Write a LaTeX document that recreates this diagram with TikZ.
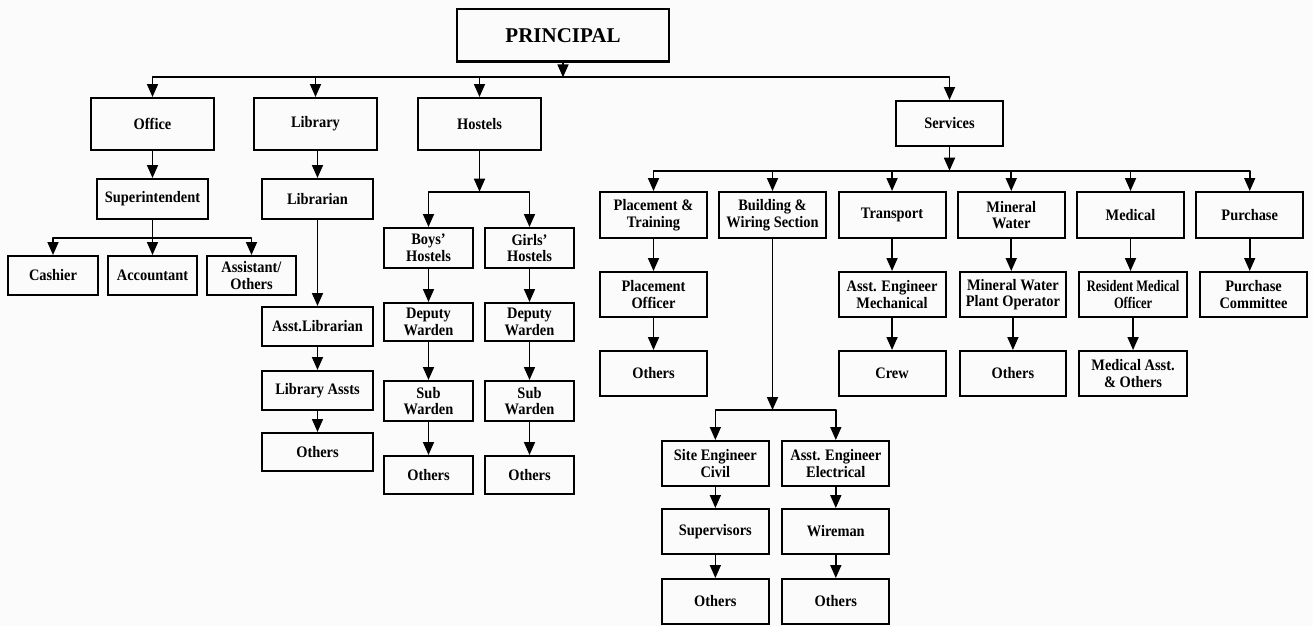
\documentclass[tikz,border=0pt]{standalone}
\usepackage{fontspec}
\setmainfont{Liberation Serif}[FakeStretch=0.9]
\newfontfamily\pfont{Liberation Serif}
\newfontfamily\nfont{Liberation Serif}[FakeStretch=0.78]
\usetikzlibrary{arrows.meta}
\definecolor{bg}{RGB}{251,251,251}
\tikzset{
  box/.style={draw, line width=2pt, inner sep=0pt, align=center,
    font=\bfseries\fontsize{16}{16.5}\selectfont},
  arr/.style={line width=1.7pt, -{Triangle[length=13pt,width=11pt]}},
  ln/.style={line width=1.7pt},
}
\newcommand{\bx}[6]{\node[box, minimum width={(#4)-(#2)}, minimum height={(#5)-(#3)}] (#1) at ({((#2)+(#4))/2},{((#3)+(#5))/2}) {#6};}
\begin{document}
\begin{tikzpicture}[x=1pt,y=-1pt]
\fill[bg] (0,0) rectangle (1313,626);
\useasboundingbox (0,0) rectangle (1313,626);
% top level
\node[box, minimum width=212, minimum height=52, font=\pfont\bfseries\fontsize{21}{24}\selectfont] (principal) at (563,35.5) {PRINCIPAL};
\bx{office}{91}{98}{214}{150}{Office}
\bx{library}{254}{98}{377}{150}{Library}
\bx{hostels}{418}{98}{541}{150}{Hostels}
\bx{services}{896}{101}{1003}{146}{Services}
% office
\bx{superintendent}{97}{179}{208}{219}{Superintendent}
\bx{cashier}{8}{256}{98}{295}{Cashier}
\bx{accountant}{108}{256}{197}{295}{Accountant}
\bx{assistant}{207}{256}{296}{295}{Assistant/\\Others}
% library
\bx{librarian}{262}{179}{373}{219}{Librarian}
\bx{asstlib}{262}{307}{373}{346}{Asst.Librarian}
\bx{libassts}{262}{371}{373}{410}{Library Assts}
\bx{libothers}{262}{433}{373}{471}{Others}
% hostels
\bx{boys}{384}{228}{473}{268}{Boys’\\Hostels}
\bx{girls}{485}{228}{574}{268}{Girls’\\Hostels}
\bx{depb}{384}{303}{473}{341}{Deputy\\Warden}
\bx{depg}{485}{303}{574}{341}{Deputy\\Warden}
\bx{subb}{384}{381}{473}{421}{Sub\\Warden}
\bx{subg}{485}{381}{574}{421}{Sub\\Warden}
\bx{othb}{384}{456}{473}{494}{Others}
\bx{othg}{485}{456}{574}{494}{Others}
% services row 1
\bx{placement}{600}{192}{707}{238}{Placement \&\\Training}
\bx{building}{719}{192}{826}{238}{Building \&\\Wiring Section}
\bx{transport}{838.5}{192}{945.6}{238}{Transport}
\bx{mineral}{957.7}{192}{1064.8}{238}{Mineral\\Water}
\bx{medical}{1077}{192}{1184}{238}{Medical}
\bx{purchase}{1196.2}{192}{1303.2}{238}{Purchase}
% services row 2
\bx{placeoff}{600}{272}{707}{317}{Placement\\Officer}
\bx{aemech}{838.5}{272}{945.6}{317}{Asst. Engineer\\Mechanical}
\bx{mwpo}{959.6}{272}{1066.2}{317}{Mineral Water\\Plant Operator}
\bx{rmo}{1079.3}{272}{1186.8}{317}{\nfont\bfseries Resident Medical\\\nfont\bfseries Officer}
\bx{pcomm}{1200}{272}{1307}{317}{Purchase\\Committee}
% services row 3
\bx{othp}{600}{351}{707}{396}{Others}
\bx{crew}{838.5}{351}{945.6}{396}{Crew}
\bx{othm}{959.6}{351}{1066.2}{396}{Others}
\bx{medasst}{1079.3}{351}{1186.8}{396}{Medical Asst.\\\& Others}
% building sub
\bx{site}{661.7}{441}{769}{486}{Site Engineer\\Civil}
\bx{aeelec}{782.3}{441}{889.3}{486}{Asst. Engineer\\Electrical}
\bx{superv}{661.7}{509}{769}{554}{Supervisors}
\bx{wireman}{782.3}{509}{889.3}{554}{Wireman}
\bx{oths}{661.7}{579}{769}{624}{Others}
\bx{othw}{782.3}{579}{889.3}{624}{Others}
% bus levels
\coordinate (b0) at (0,77.3);
\coordinate (b1) at (0,237.7);
\coordinate (b2) at (0,191.7);
\coordinate (b3) at (0,170.7);
\coordinate (b4) at (0,410);
% principal
\draw[arr] (principal.south) -- (principal.south |- b0);
\draw[ln, line join=round] (office.north) ++(0,-10) |- (services.north |- b0) -- ++(0,10);
\foreach \n in {office,library,hostels,services}{\draw[arr] (\n.north |- b0) -- (\n.north);}
% office
\draw[arr] (superintendent.north |- office.south) -- (superintendent.north);
\draw[arr] (superintendent.south) -- (accountant.north);
\draw[ln, line join=round] (cashier.north) ++(0,-10) |- (assistant.north |- b1) -- ++(0,10);
\draw[arr] (cashier.north |- b1) -- (cashier.north);
\draw[arr] (assistant.north |- b1) -- (assistant.north);
% library
\draw[arr] (librarian.north |- library.south) -- (librarian.north);
\draw[arr] (librarian.south) -- (asstlib.north);
\draw[arr] (asstlib.south) -- (libassts.north);
\draw[arr] (libassts.south) -- (libothers.north);
% hostels
\draw[arr] (hostels.south) -- (hostels.south |- b2);
\draw[ln, line join=round] (boys.north) ++(0,-10) |- (girls.north |- b2) -- ++(0,10);
\draw[arr] (boys.north |- b2) -- (boys.north);
\draw[arr] (girls.north |- b2) -- (girls.north);
\draw[arr] (boys.south) -- (depb.north);
\draw[arr] (girls.south) -- (depg.north);
\draw[arr] (depb.south) -- (subb.north);
\draw[arr] (depg.south) -- (subg.north);
\draw[arr] (subb.south) -- (othb.north);
\draw[arr] (subg.south) -- (othg.north);
% services
\draw[arr] (services.south) -- (services.south |- b3);
\draw[ln, line join=round] (placement.north) ++(0,-10) |- (purchase.north |- b3) -- ++(0,10);
\foreach \n in {placement,building,transport,mineral,medical,purchase}{\draw[arr] (\n.north |- b3) -- (\n.north);}
\draw[arr] (placement.south) -- (placeoff.north);
\draw[arr] (placeoff.south) -- (othp.north);
\draw[arr] (transport.south) -- (aemech.north);
\draw[arr] (aemech.south) -- (crew.north);
\draw[arr] (mineral.south) -- (mineral.south |- mwpo.north);
\draw[arr] (mwpo.south) -- (othm.north);
\draw[arr] (medical.south) -- (medical.south |- rmo.north);
\draw[arr] (rmo.south) -- (medasst.north);
\draw[arr] (purchase.south) -- (purchase.south |- pcomm.north);
% building
\draw[arr] (building.south) -- (building.south |- b4);
\draw[ln, line join=round] (site.north) ++(0,-10) |- (aeelec.north |- b4) -- ++(0,10);
\draw[arr] (site.north |- b4) -- (site.north);
\draw[arr] (aeelec.north |- b4) -- (aeelec.north);
\draw[arr] (site.south) -- (superv.north);
\draw[arr] (aeelec.south) -- (wireman.north);
\draw[arr] (superv.south) -- (oths.north);
\draw[arr] (wireman.south) -- (othw.north);
\end{tikzpicture}
\end{document}
